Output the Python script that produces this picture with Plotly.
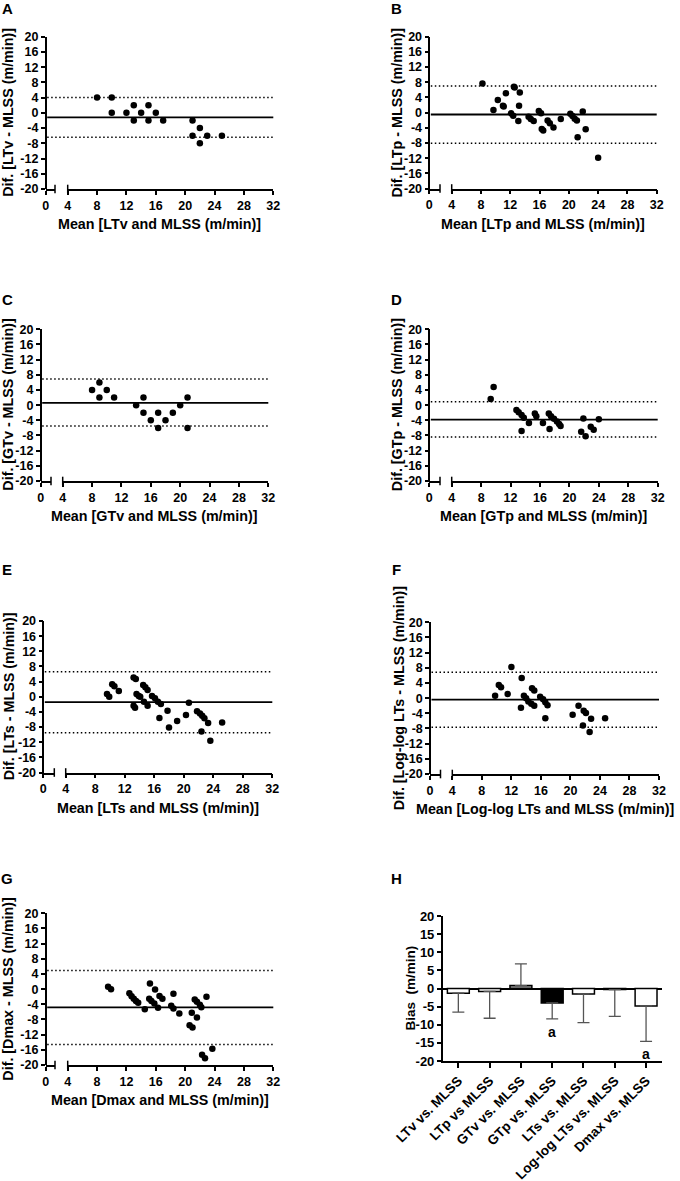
import plotly.graph_objects as go

# ---------------- data ----------------
A_x = [8, 10, 10, 12, 13, 13, 14, 15, 15, 16, 17, 21, 21, 22, 22, 23, 25]
A_y = [4, 4, 0, 0, 2, -2, 0, 2, -2, 0, -2, -2, -6, -4, -8, -6, -6]
A_stats = [-1.2, 4.0, -6.4]  # bias, upper LoA, lower LoA

B_x = [8.2, 9.7, 10.3, 11.0, 11.1, 11.4, 12.1, 12.4, 12.5, 12.6, 13.1, 13.2, 13.3, 14.5, 14.8, 15.2,
       15.9, 16.2, 16.3, 16.5, 17.1, 17.4, 17.9, 18.9, 20.2, 20.5, 20.8, 21.1, 21.2, 21.9, 22.3, 24.0]
B_y = [7.7, 0.7, 3.3, 1.8, 1.6, 5.1, -0.2, -0.8, 6.8, 6.6, -2.2, 1.8, 5.3, -1.1, -1.7, -2.2,
       0.4, -0.2, -4.3, -4.7, -2.1, -2.8, -3.9, -1.7, -0.3, -0.9, -1.6, -2.1, -6.5, 0.3, -4.4, -11.9]
B_stats = [-0.5, 7.0, -8.1]

C_x = [8, 9, 9, 10, 11, 14, 15, 15, 16, 17, 17, 18, 19, 20, 21, 21]
C_y = [4, 6, 2, 4, 2, 0, 2, -2, -4, -2, -6, -4, -2, 0, 2, -6]
C_stats = [0.6, 6.9, -5.5]

D_x = [9.3, 9.7, 12.8, 13.1, 13.5, 13.8, 13.5, 14.5, 15.3, 15.5, 16.4, 17.2, 17.5, 17.9, 18.3, 18.6,
       18.8, 17.3, 21.9, 21.6, 22.2, 22.9, 23.3, 24.0]
D_y = [1.6, 4.8, -1.3, -1.9, -2.6, -3.3, -6.8, -4.7, -2.2, -2.9, -4.7, -2.2, -2.9, -3.6, -4.3, -5.0,
       -5.5, -6.3, -3.5, -7.0, -8.2, -5.7, -6.5, -3.7]
D_stats = [-3.8, 0.9, -8.4]

E_x = [9.6, 9.9, 10.3, 10.6, 11.2, 13.2, 13.5, 13.2, 13.4, 13.6, 13.9, 14.1, 14.5, 14.8, 15.1, 14.6,
       15.1, 15.7, 16.1, 16.5, 16.9, 16.7, 17.8, 18.0, 19.1, 20.3, 20.7, 21.8, 22.2, 22.5, 22.8, 23.3,
       22.4, 23.6, 25.2]
E_y = [0.7, 0.0, 3.3, 2.8, 1.5, 5.1, 4.7, -2.4, -2.9, 0.7, 0.2, 0.0, 3.1, 2.5, 1.8, -1.3,
       -2.4, 0.2, -0.4, -1.3, -1.9, -5.6, -3.7, -8.1, -6.4, -4.8, -1.6, -3.8, -4.4, -5.0, -5.7, -6.9,
       -9.2, -11.6, -6.8]
E_stats = [-1.4, 6.6, -9.5]

F_x = [9.8, 10.3, 10.6, 11.5, 12.0, 13.4, 13.3, 13.7, 14.0, 14.3, 14.7, 15.1, 14.8, 15.1, 15.9, 16.3,
       16.6, 16.9, 16.6, 20.3, 21.1, 21.8, 22.1, 21.7, 22.6, 22.8, 24.7]
F_y = [0.6, 3.5, 2.9, 1.1, 8.2, 5.3, -2.5, 0.6, 0.0, -0.9, -1.5, -2.0, 2.6, 2.0, 0.4, -0.3,
       -1.1, -1.9, -5.3, -4.4, -2.0, -3.3, -3.9, -7.2, -8.9, -5.4, -5.3]
F_stats = [-0.4, 6.8, -7.7]

G_x = [9.5, 9.9, 12.4, 12.7, 13.0, 13.3, 13.6, 14.5, 15.2, 15.1, 15.4, 15.8, 15.9, 16.3, 16.5, 16.9,
       18.1, 18.4, 18.4, 19.2, 20.6, 21.0, 20.9, 21.3, 21.6, 22.0, 22.2, 21.6, 22.9, 23.7, 22.3, 22.7]
G_y = [0.6, 0.0, -1.1, -1.9, -2.5, -3.1, -3.6, -5.3, 1.5, -2.5, -3.1, -3.8, -0.1, -4.9, -1.8, -2.5,
       -4.4, -5.1, -1.2, -6.4, -9.5, -10.1, -6.2, -2.7, -3.3, -4.1, -4.8, -7.5, -2.0, -15.7, -17.3, -18.2]
G_stats = [-4.8, 4.9, -14.6]

H_cats = ["LTv vs. MLSS", "LTp vs MLSS", "GTv vs. MLSS", "GTp vs. MLSS",
          "LTs vs. MLSS", "Log-log LTs vs. MLSS", "Dmax vs. MLSS"]
H_bias = [-1.3, -0.8, 0.8, -4.0, -1.5, -0.3, -4.8]
H_err = [5.2, 7.4, 6.0, 4.4, 7.9, 7.4, 9.8]
H_sig = ["", "", "", "a", "", "", "a"]
H_fill = ["white", "white", "#8f8f8f", "black", "white", "white", "white"]

x_ticks = [4, 8, 12, 16, 20, 24, 28, 32]
y_ticks = [-20, -16, -12, -8, -4, 0, 4, 8, 12, 16, 20]
H_yticks = [-20, -15, -10, -5, 0, 5, 10, 15, 20]

# ---------------- layout helpers ----------------
W, Hh = 680, 1181
def px(x): return x / W
def py(y): return 1 - y / Hh

FONT = "Liberation Sans, Arial, sans-serif"
TICKF = dict(family=FONT, size=12.5, color="black", weight="bold")
TITLEF = dict(family=FONT, size=14.3, color="black", weight="bold")

panels = [
    ("A", A_x, A_y, A_stats, "LTv", dict(x0=45.7, xb=55.0, x4=67.7, x1=273.3, yt=36.7, yb=189.0, tx=8, lx=7, ly=8.3)),
    ("B", B_x, B_y, B_stats, "LTp", dict(x0=429.3, xb=440.0, x4=451.7, x1=656.7, yt=36.7, yb=188.5, tx=397, lx=396, ly=8.3)),
    ("C", C_x, C_y, C_stats, "GTv", dict(x0=40.7, xb=51.0, x4=62.7, x1=268.3, yt=329.3, yb=481.0, tx=8.5, lx=7, ly=299)),
    ("D", D_x, D_y, D_stats, "GTp", dict(x0=429.3, xb=440.0, x4=451.7, x1=657.7, yt=329.3, yb=481.0, tx=397, lx=396.5, ly=299)),
    ("E", E_x, E_y, E_stats, "LTs", dict(x0=43.3, xb=54.3, x4=65.7, x1=272.3, yt=621.0, yb=772.5, tx=8.5, lx=7, ly=569)),
    ("F", F_x, F_y, F_stats, "Log-log LTs", dict(x0=430.0, xb=440.5, x4=452.3, x1=659.0, yt=622.3, yb=774.0, tx=399, lx=396, ly=569)),
    ("G", G_x, G_y, G_stats, "Dmax", dict(x0=45.7, xb=55.0, x4=67.7, x1=273.3, yt=913.3, yb=1065.0, tx=8.5, lx=7, ly=878)),
]

fig = go.Figure()
layout = dict(width=W, height=Hh, margin=dict(l=0, r=0, t=0, b=0), autosize=False,
              paper_bgcolor="white", plot_bgcolor="white", showlegend=False,
              font=dict(family=FONT, color="black"))
shapes = []
annotations = []

axis_common = dict(showgrid=False, zeroline=False, showline=True, linecolor="black", linewidth=1.5,
                   ticks="outside", ticklen=4, tickwidth=1.5, tickcolor="black",
                   tickfont=TICKF, automargin=False, fixedrange=True)

for i, (letter, xs, ys, stats, name, p) in enumerate(panels):
    n = i + 1
    na = 8 + n  # aux axis index (short first segment of the broken x axis)
    xk = "xaxis" if n == 1 else f"xaxis{n}"
    yk = "yaxis" if n == 1 else f"yaxis{n}"
    ref_x = "x" if n == 1 else f"x{n}"
    ref_y = "y" if n == 1 else f"y{n}"

    layout[xk] = dict(axis_common, domain=[px(p["x4"]), px(p["x1"])], range=[4, 32],
                      anchor=ref_y, tickmode="array", tickvals=x_ticks,
                      ticktext=[str(v) for v in x_ticks])
    layout[f"xaxis{na}"] = dict(axis_common, domain=[px(p["x0"]), px(p["xb"])], range=[0, 1.3],
                                anchor=ref_y, tickmode="array", tickvals=[0], ticktext=["0"])
    layout[yk] = dict(axis_common, domain=[py(p["yb"]), py(p["yt"])], range=[-20, 20],
                      anchor="free", position=px(p["x0"]), tickmode="array", tickvals=y_ticks,
                      ticktext=[str(v) for v in y_ticks])

    # empty trace so the short axis segment gets drawn
    fig.add_trace(go.Scatter(x=[None], y=[None], mode="markers", xaxis=f"x{na}", yaxis=ref_y,
                             hoverinfo="skip"))
    fig.add_trace(go.Scatter(x=xs, y=ys, mode="markers", xaxis=ref_x, yaxis=ref_y,
                             marker=dict(color="black", size=6.5), cliponaxis=False,
                             hoverinfo="skip"))

    bias, up, lo = stats
    shapes.append(dict(type="line", xref="paper", yref=ref_y, x0=px(p["x0"] + 1.5), x1=px(p["x1"]),
                       y0=bias, y1=bias, line=dict(color="black", width=1.8)))
    for v in (up, lo):
        shapes.append(dict(type="line", xref="paper", yref=ref_y, x0=px(p["x0"] + 1.5), x1=px(p["x1"]),
                           y0=v, y1=v, line=dict(color="black", width=1.5, dash="1.5px,2.5px")))
    # axis break bars
    for bx in (p["xb"], p["x4"]):
        shapes.append(dict(type="line", xref="paper", yref="paper", x0=px(bx), x1=px(bx),
                           y0=py(p["yb"] + 4.3), y1=py(p["yb"] - 4.3),
                           line=dict(color="black", width=1.5)))

    annotations.append(dict(text=f"Dif. [{name} - MLSS (m/min)]", textangle=-90, xref="paper", yref="paper",
                            x=px(p["tx"]), y=py((p["yt"] + p["yb"]) / 2), xanchor="center", yanchor="middle",
                            showarrow=False, font=TITLEF))
    annotations.append(dict(text=f"Mean [{name} and MLSS (m/min)]", xref="paper", yref="paper",
                            x=px((p["x0"] + p["x1"]) / 2), y=py(p["yb"] + 35), xanchor="center",
                            yanchor="middle", showarrow=False, font=TITLEF))
    annotations.append(dict(text=letter, xref="paper", yref="paper", x=px(p["lx"]), y=py(p["ly"]),
                            xanchor="center", yanchor="middle", showarrow=False,
                            font=dict(family=FONT, size=15, color="black", weight="bold")))

# ---------------- panel H ----------------
hp = dict(x0=442.7, x1=661.7, yt=916.0, yb=1061.0, tx=410, lx=396, ly=878)
up_err = [e if b >= 0 else 0 for b, e in zip(H_bias, H_err)]
dn_err = [0 if b >= 0 else e for b, e in zip(H_bias, H_err)]
fig.add_trace(go.Bar(x=H_cats, y=H_bias, xaxis="x8", yaxis="y8", width=0.7,
                     marker=dict(color=H_fill, line=dict(color="black", width=1.5)),
                     error_y=dict(type="data", symmetric=False, array=up_err, arrayminus=dn_err,
                                  color="#555555", thickness=1.3, width=6),
                     hoverinfo="skip"))
layout["xaxis8"] = dict(axis_common, domain=[px(hp["x0"]), px(hp["x1"])], anchor="y8",
                        range=[-0.5, 6.5], tickangle=-45, ticklen=5,
                        tickfont=dict(family=FONT, size=13.5, color="black", weight="bold"))
layout["yaxis8"] = dict(axis_common, domain=[py(hp["yb"]), py(hp["yt"])], anchor="x8",
                        range=[-20, 20], tickmode="array", tickvals=H_yticks,
                        ticktext=[str(v) for v in H_yticks], zeroline=True, zerolinecolor="black",
                        zerolinewidth=1.5,
                        tickfont=dict(family=FONT, size=13, color="black", weight="bold"))
for c, b, e, s in zip(H_cats, H_bias, H_err, H_sig):
    if s:
        annotations.append(dict(text=s, xref="x8", yref="y8", x=c, y=b - e, yanchor="top", yshift=-3,
                                showarrow=False, font=dict(family=FONT, size=14, color="black", weight="bold")))
annotations.append(dict(text="Bias\u00a0\u00a0(m/min)", textangle=-90, xref="paper", yref="paper",
                        x=px(hp["tx"]), y=py((hp["yt"] + hp["yb"]) / 2), xanchor="center", yanchor="middle",
                        showarrow=False, font=dict(family=FONT, size=13.5, color="black", weight="bold")))
annotations.append(dict(text="H", xref="paper", yref="paper", x=px(hp["lx"]), y=py(hp["ly"]),
                        xanchor="center", yanchor="middle", showarrow=False,
                        font=dict(family=FONT, size=15, color="black", weight="bold")))

layout["shapes"] = shapes
layout["annotations"] = annotations
fig.update_layout(**layout)
fig.write_html("out.html", config={"displayModeBar": False},
               post_script="document.body.style.margin='0';document.body.style.overflow='hidden';")
